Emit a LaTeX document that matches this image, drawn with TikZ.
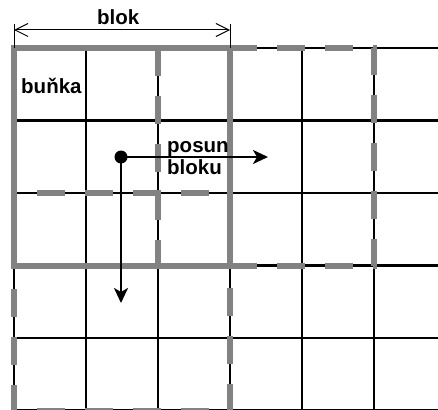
\documentclass[tikz,border=0pt]{standalone}
\usepackage{fontspec}
\setmainfont{Liberation Sans}
\usepackage{tikz}
\usetikzlibrary{arrows.meta}
\definecolor{blokgray}{RGB}{130,130,130}

\begin{document}
\begin{tikzpicture}[x=1pt, y=-1pt, font=\fontsize{20.5}{24}\selectfont\bfseries,
  gridline/.style={line width=2.6pt, black},
  blokline/.style={line width=6pt, blokgray},
  blokdash/.style={line width=6pt, blokgray, dash pattern=on 28pt off 20pt},
  dot/.style={circle, fill=black, inner sep=0pt, minimum size=13pt},
  shiftarrow/.style={line width=2.2pt, -{Stealth[length=15pt, width=14pt, inset=4pt]}},
  dimline/.style={line width=1pt, {Straight Barb[length=13pt, width=13pt]}-{Straight Barb[length=13pt, width=13pt]}},
  label/.style={anchor=base west, inner sep=0pt}]
  \useasboundingbox (0,0) rectangle (438,409);
  \foreach \i in {0,...,5} {
    \draw[gridline] (14+72*\i,48) -- (14+72*\i,412);
    \draw[gridline] (14,48+72.5*\i) -- (440,48+72.5*\i);
  }
  \draw[blokdash] (158,48) rectangle (374,265.5);
  \draw[blokdash] (14,193) rectangle (230,410.5);
  \draw[blokline] (14,48) rectangle (230,265.5);
  \coordinate (extL) at (14,24);
  \coordinate (extR) at (230,24);
  \coordinate (dimL) at (14,30);
  \coordinate (dimR) at (230,30);
  \draw[line width=1pt] (extL) -- (14,48);
  \draw[line width=1pt] (extR) -- (230,48);
  \draw[dimline] (dimL) -- (dimR);
  \node[label] (blok) at (97,25) {blok};
  \node[label] (bunka) at (21,93) {buňka};
  \node[label] (posun) at (167,152) {posun};
  \node[label] (bloku) at (167,174) {bloku};
  \node[dot] (start) at (121,157) {};
  \coordinate (shiftR) at (268,157);
  \coordinate (shiftD) at (121,303);
  \draw[shiftarrow] (start.center) -- (shiftR);
  \draw[shiftarrow] (start.center) -- (shiftD);
\end{tikzpicture}
\end{document}
